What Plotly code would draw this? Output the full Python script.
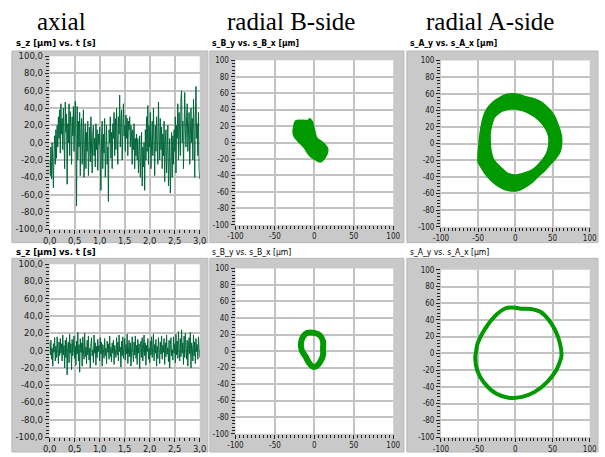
import numpy as np
import plotly.graph_objects as go

W, H = 605, 457

# ---------------------------------------------------------------- data
# axial displacement s_z [µm], evenly sampled over 0 ... 3 s
sz_upper = [
    -20, -38, -5, -42, 0, -30, -52, -10, 8, -25, 15, -18, 20, -5, 30, 5, 38, -12, 45, 10,
    28, -8, 40, 5, -30, 47, 12, 33, -48, 22, 0, 45, -15, 36, 18, -25, 30, 8, 42, -10,
    20, 48, 5, -73, 42, -20, 25, -5, 35, -38, 15, 28, -25, 10, 38, -40, 5, 22, -30, 12,
    -10, 25, -38, 8, 18, -22, 30, -5, -35, 12, 20, -15, 5, -28, 22, -8, 15, -32, 10, -2,
    18, -20, -55, 5, 25, -30, 10, -12, 28, -40, 8, 20, -25, -5, -68, 15, 0, 30, -18, 12,
    -30, 22, 5, 35, -15, 28, -8, 40, 15, -25, 30, 10, 55, -5, 25, 38, -20, 18, 45, 8,
    20, -10, 32, 5, 28, -15, 25, 15, 30, -5, 20, 10, -25, 15, -8, 22, -30, 5, -15, 10,
    -20, 5, -35, -10, 8, -40, -15, 12, -50, -5, -28, 0, -55, 15, -20, 30, -10, 43, -25, 20,
    -5, 35, -30, 15, 25, -15, 40, 5, -38, 20, -10, 30, 0, -25, 47, 10, -20, 28, -8, 18,
    -30, 10, -15, 25, -45, 0, 15, -35, -10, 20, -50, -20, 5, -58, -5, 12, -40, 8, -25, 15,
    -10, 30, -35, 20, 5, 45, -20, 35, 10, -15, 50, 60, 0, 25, -30, 40, 58, 15, -5, 30,
    45, -10, 20, 35, -25, 10, 40, 0, 28, -20, 50, 15, -40, 30, 65, 5, 22, -15, 35, -30, -42,
]
sz_lower = [
    10, -5, 12, -10, 3, -18, 8, -2, 15, -12, 5, -8, 16, 0, -15, 10, -6, 14, -3, 8,
    -12, 18, -5, 6, -20, 12, -8, 15, -28, 4, 10, -14, 19, -3, 8, -22, 13, -6, 2, 17,
    -9, 5, -17, 11, -4, 21, -12, 7, -25, 14, -2, 9, -18, 16, 0, -10, 20, -7, 4, -15,
    12, -5, 17, -11, 3, -20, 8, 15, -6, 1, -14, 18, -3, 9, -17, 5, -8, 13, -1, 6,
    -12, 15, -4, 10, -18, 7, 1, -9, 14, -6, 3, -15, 11, -2, 8, -10, 17, -7, 4, -13,
    9, -3, 12, -16, 6, 0, -8, 15, -5, 10, -12, 18, -1, 4, -19, 11, -6, 16, -9, 2,
    14, -11, 7, -4, 19, -15, 3, 12, -7, 9, -18, 5, 16, -2, -13, 10, -5, 17, -9, 6,
    -16, 13, -3, 8, -21, 4, 11, -8, 15, -12, 2, 18, -6, 9, -17, 6, -1, 14, -10, 3,
    -14, 11, -5, 16, -8, 2, 19, -12, 7, -3, 13, -18, 5, -9, 15, 0, -15, 10, -4, 17,
    -10, 6, -2, 14, -16, 9, -7, 18, -4, 3, -13, 12, -20, 7, 15, -6, 1, -11, 16, -3,
    8, -14, 19, -5, 11, -9, 22, 2, -12, 14, -7, 24, -3, 9, -16, 17, -8, 20, 0, -10,
    12, -18, 6, 15, -4, 21, -20, 9, 3, -12, 18, -6, 10, -15, 14, -1, 7, -10, 16, -5, -8,
]
t_end = 3.0

# B-side orbit, upper run: outline of the smeared orbit cloud [µm]
b_up_x = [-24, -15, -8, -6, -3, -1, 1, 3, 8, 14, 17, 16, 13, 9, 5, 0,
          -5, -9, -13, -17, -22, -26, -27, -26]
b_up_y = [26, 27, 27, 29, 26, 20, 12, 6, 2, -3, -8, -14, -19, -23, -23, -20,
          -17, -12, -6, -2, 3, 8, 14, 20]

# A-side orbit, upper run: outer and inner edge of the orbit band [µm]
a_up_outer_x = [-5, 5, 15, 25, 35, 45, 52, 56, 60, 62, 62, 60, 54, 48, 40, 30, 22, 14, 5, -5,
                -15, -25, -33, -40, -45, -50, -50, -49, -48, -46, -43, -38, -30, -20, -12]
a_up_outer_y = [60, 59, 56, 54, 50, 42, 34, 26, 16, 8, -2, -10, -18, -24, -32, -40, -47, -52, -56, -57,
                -55, -50, -44, -37, -30, -22, -12, -2, 8, 20, 32, 42, 50, 56, 59]
a_up_inner_x = [-5, 5, 15, 25, 35, 42, 45, 45, 42, 36, 28, 20, 10, 0, -10, -18, -25, -30,
                -33, -34, -34, -32, -28, -18]
a_up_inner_y = [42, 41, 38, 33, 25, 16, 8, -2, -12, -20, -28, -33, -36, -38, -36, -30, -24, -18,
                -8, 2, 12, 22, 32, 39]

# B-side orbit, lower run (closed path) [µm]
b_lo_x = [-9, 0, 7, 11, 11, 11, 8, 3, -2, -7, -11, -16, -17, -14, -9]
b_lo_y = [22, 22, 19, 12, 3, -5, -12, -18, -19, -14, -7, 1, 10, 18, 22]

# A-side orbit, lower run (closed path) [µm]
a_lo_x = [-13, -4, 8, 21, 34, 45, 54, 60, 62, 59, 55, 43, 26, 9, -9, -26, -42, -51, -54, -53,
          -51, -41, -27, -13]
a_lo_y = [54, 55, 53.5, 53, 49.5, 40, 27, 12, -3, -12, -20, -34, -46, -52, -53, -48, -35, -21, -5, 1,
          11, 29, 45, 54]

# axis ticks
time_ticks = [0.0, 0.5, 1.0, 1.5, 2.0, 2.5, 3.0]
disp_ticks = list(range(-100, 101, 20))
orbit_x_ticks = [-100, -50, 0, 50, 100]

col_titles = ["axial", "radial B-side", "radial A-side"]
sub_titles = [
    ["s_z [µm] vs. t [s]", "s_B_y vs. s_B_x [µm]", "s_A_y vs. s_A_x [µm]"],
    ["s_z [µm] vs. t [s]", "s_B_y vs. s_B_x [µm]", "s_A_y vs. s_A_x [µm]"],
]

# ---------------------------------------------------------------- layout geometry (pixels)
plot_px = [
    ((42.7, 196.6), (52.3, 229.3)),
    ((233.3, 395.0), (56.5, 224.8)),
    ((444.0, 596.5), (56.7, 226.7)),
    ((42.7, 196.6), (265.0, 441.7)),
    ((233.3, 395.0), (269.3, 438.3)),
    ((444.0, 596.5), (270.7, 441.7)),
]
frame_px = [
    ((4, 205), (47, 243)), ((207, 406), (47, 243)), ((409, 605), (47, 243)),
    ((4, 205), (259, 457)), ((207, 406), (259, 457)), ((409, 605), (259, 457)),
]
title_cx = [55.3, 290.0, 494.7]
title_cy = 16.5
sub_x = [7, 208, 411]
sub_y = [39, 253]


def fx(p):
    return p / W


def fy(p):
    return 1 - p / H


DARK = "#00663a"
GREEN = "#009a00"
GRID = "#c2c2c2"
PANEL = "#c9c9c9"

fig = go.Figure()

t_upper = np.linspace(0, t_end, len(sz_upper))
t_lower = np.linspace(0, t_end, len(sz_lower))

fig.add_trace(go.Scatter(x=t_upper, y=sz_upper, mode="lines",
                         line=dict(color=DARK, width=1), xaxis="x", yaxis="y"))
fig.add_trace(go.Scatter(x=b_up_x + [b_up_x[0]], y=b_up_y + [b_up_y[0]], mode="lines",
                         fill="toself", fillcolor=GREEN,
                         line=dict(color=GREEN, width=1.5, shape="spline"),
                         xaxis="x2", yaxis="y2"))

# band between outer and inner edge, drawn as one keyhole polygon
ring_x = (a_up_outer_x + [a_up_outer_x[0]] + [a_up_inner_x[0]]
          + a_up_inner_x[1:][::-1] + [a_up_inner_x[0], a_up_outer_x[0]])
ring_y = (a_up_outer_y + [a_up_outer_y[0]] + [a_up_inner_y[0]]
          + a_up_inner_y[1:][::-1] + [a_up_inner_y[0], a_up_outer_y[0]])
fig.add_trace(go.Scatter(x=ring_x, y=ring_y, mode="lines", fill="toself", fillcolor=GREEN,
                         line=dict(color=GREEN, width=0.5), xaxis="x3", yaxis="y3"))
fig.add_trace(go.Scatter(x=a_up_outer_x + [a_up_outer_x[0]], y=a_up_outer_y + [a_up_outer_y[0]],
                         mode="lines", line=dict(color=GREEN, width=1.5, shape="spline"),
                         xaxis="x3", yaxis="y3"))
fig.add_trace(go.Scatter(x=a_up_inner_x + [a_up_inner_x[0]], y=a_up_inner_y + [a_up_inner_y[0]],
                         mode="lines", line=dict(color=GREEN, width=1.5, shape="spline"),
                         xaxis="x3", yaxis="y3"))

fig.add_trace(go.Scatter(x=t_lower, y=sz_lower, mode="lines",
                         line=dict(color=DARK, width=1), xaxis="x4", yaxis="y4"))
fig.add_trace(go.Scatter(x=b_lo_x, y=b_lo_y, mode="lines",
                         line=dict(color=GREEN, width=6, shape="spline"), xaxis="x5", yaxis="y5"))
fig.add_trace(go.Scatter(x=a_lo_x, y=a_lo_y, mode="lines",
                         line=dict(color=GREEN, width=4, shape="spline"), xaxis="x6", yaxis="y6"))

tick_font_time = dict(family="DejaVu Sans", size=8.5, color="#1a1a1a")
tick_font_orbit = dict(family="DejaVu Sans Condensed", size=8, color="#1a1a1a")


def fmt_comma(v):
    return f"{v:.1f}".replace(".", ",")


layout = dict(
    width=W, height=H, autosize=False,
    margin=dict(l=0, r=0, t=0, b=0),
    paper_bgcolor="white", plot_bgcolor="rgba(0,0,0,0)",
    showlegend=False,
)

for i, ((x0, x1), (y0, y1)) in enumerate(plot_px):
    n = i + 1
    sx = "xaxis" if n == 1 else f"xaxis{n}"
    sy = "yaxis" if n == 1 else f"yaxis{n}"
    is_time = i % 3 == 0
    common = dict(showgrid=True, gridcolor=GRID, gridwidth=2, zeroline=False,
                  showline=False, ticks="outside", ticklen=4, tickcolor="#222",
                  tickwidth=1, fixedrange=True)
    if is_time:
        xa = dict(range=[0, t_end], tickmode="array", tickvals=time_ticks,
                  ticktext=[fmt_comma(v) for v in time_ticks], tickfont=tick_font_time,
                  minor=dict(tick0=0, dtick=0.1, ticks="outside", ticklen=3, tickcolor="#222"))
        ya = dict(range=[-100, 100], tickmode="array", tickvals=disp_ticks,
                  ticktext=[fmt_comma(v) for v in disp_ticks], tickfont=tick_font_time,
                  minor=dict(tick0=0, dtick=4, ticks="outside", ticklen=3, tickcolor="#222"))
    else:
        xa = dict(range=[-100, 100], tickmode="array", tickvals=orbit_x_ticks,
                  ticktext=[str(v) for v in orbit_x_ticks], tickfont=tick_font_orbit,
                  minor=dict(tick0=0, dtick=5, ticks="outside", ticklen=3, tickcolor="#222"))
        ya = dict(range=[-100, 100], tickmode="array", tickvals=disp_ticks,
                  ticktext=[str(v) for v in disp_ticks], tickfont=tick_font_orbit,
                  minor=dict(tick0=0, dtick=4, ticks="outside", ticklen=3, tickcolor="#222"))
    xa.update(common, domain=[fx(x0), fx(x1)], anchor=f"y{'' if n == 1 else n}")
    ya.update(common, domain=[fy(y1), fy(y0)], anchor=f"x{'' if n == 1 else n}")
    layout[sx] = xa
    layout[sy] = ya

shapes = []
for (x0, x1), (y0, y1) in frame_px:
    shapes.append(dict(type="rect", xref="paper", yref="paper", x0=fx(x0), x1=fx(x1),
                       y0=fy(y1), y1=fy(y0), fillcolor=PANEL,
                       line=dict(color="#b8b8b8", width=1), layer="below"))
for (x0, x1), (y0, y1) in plot_px:
    shapes.append(dict(type="rect", xref="paper", yref="paper", x0=fx(x0), x1=fx(x1),
                       y0=fy(y1), y1=fy(y0), fillcolor="white", line=dict(width=0),
                       layer="below"))
layout["shapes"] = shapes

annotations = []
for cx, txt in zip(title_cx, col_titles):
    annotations.append(dict(text=txt, x=fx(cx), y=fy(title_cy), xref="paper", yref="paper",
                            xanchor="center", yanchor="middle", showarrow=False, borderpad=0,
                            font=dict(family="Liberation Serif", size=25, color="black")))
for r, row in enumerate(sub_titles):
    for c, txt in enumerate(row):
        if c == 0:
            f = dict(family="DejaVu Sans", size=8.5, color="black", weight="bold")
        else:
            f = dict(family="DejaVu Sans Condensed", size=8.5, color="black",
                     weight="bold" if r == 0 else "normal")
        annotations.append(dict(text=txt, x=fx(sub_x[c]), y=fy(sub_y[r]), xref="paper",
                                yref="paper", xanchor="left", yanchor="middle",
                                showarrow=False, borderpad=0, font=f))
layout["annotations"] = annotations

fig.update_layout(**layout)
fig.write_html("out.html")
